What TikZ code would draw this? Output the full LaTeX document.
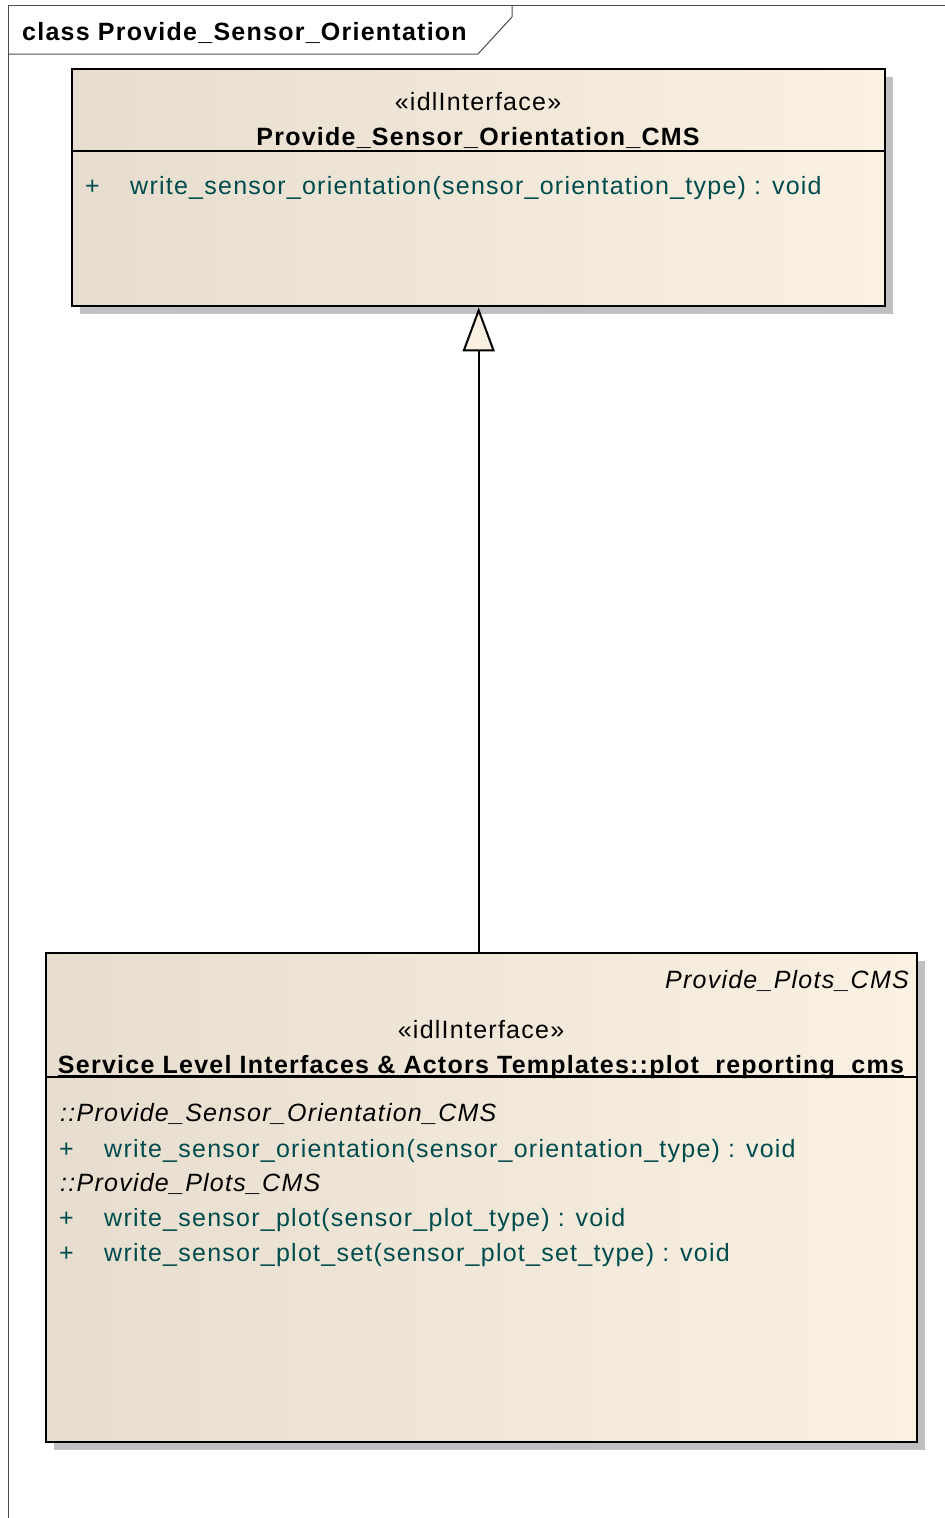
\documentclass[tikz,border=0pt]{standalone}
\usepackage{fontspec}
\setmainfont[LetterSpace=5]{Liberation Sans}
\usetikzlibrary{arrows.meta,shadows}
\definecolor{fillL}{RGB}{230,221,206}
\definecolor{fillR}{RGB}{251,241,227}
\definecolor{cream}{RGB}{250,240,226}
\definecolor{shade}{RGB}{192,192,192}
\definecolor{teal}{RGB}{0,76,76}
\tikzset{
  umlbox/.style={draw=black, line width=2.4pt, rectangle, anchor=north west, inner sep=0pt,
    left color=fillL, right color=fillR,
    drop shadow={shadow xshift=8pt, shadow yshift=-8pt, fill=shade, opacity=1}},
  txt/.style={inner sep=0pt, anchor=base west, font=\fontsize{25}{30}\selectfont},
  optxt/.style={txt, text=teal},
  ctxt/.style={inner sep=0pt, anchor=base, font=\fontsize{25}{30}\selectfont},
  gen/.style={line width=2pt, -{Triangle[length=44pt,width=32pt,fill=cream,line width=2pt]}},
  frameline/.style={line width=1pt, draw=black!70}
}
\begin{document}
\begin{tikzpicture}[x=1pt,y=-1pt]
\useasboundingbox (0,0) rectangle (945,1518);
% frame
\draw[frameline] (8,1518) -- (8,5) -- (945,5);
\draw[frameline] (8,54) -- (478,54) -- (512,17) -- (512,5);
\node[txt, font=\fontsize{25}{30}\selectfont\bfseries] (title) at (22,40) {class Provide\_Sensor\_Orientation};
% top class
\node[umlbox, minimum width=813pt, minimum height=237pt] (top) at (71,68) {};
\draw[line width=2pt] (top.west |- 0,151) -- (top.east |- 0,151);
\node[ctxt] (tster) at (478,110) {«idlInterface»};
\node[ctxt, font=\fontsize{25}{30}\selectfont\bfseries] (tname) at (478,145) {Provide\_Sensor\_Orientation\_CMS};
\node[optxt] (tplus) at (85,194) {+};
\node[optxt] (top1) at (130,194) {write\_sensor\_orientation(sensor\_orientation\_type) : void};
% bottom class
\node[umlbox, minimum width=871pt, minimum height=489pt] (bot) at (45,952) {};
\draw[line width=2pt] (bot.west |- 0,1077) -- (bot.east |- 0,1077);
\node[txt, anchor=base east, font=\fontsize{25}{30}\selectfont\itshape] (bsup) at (909,988) {Provide\_Plots\_CMS};
\node[ctxt] (bster) at (481,1038) {«idlInterface»};
\node[ctxt, font=\fontsize{25}{30}\selectfont\bfseries] (bname) at (481,1073) {Service Level Interfaces \& Actors Templates::plot\_reporting\_cms};
\draw[line width=1.5pt] ([yshift=-3pt]bname.base west) -- ([yshift=-3pt]bname.base east);
\node[txt, font=\fontsize{25}{30}\selectfont\itshape] (bg1) at (60,1121) {::Provide\_Sensor\_Orientation\_CMS};
\node[optxt] (bp1) at (59,1157) {+};
\node[optxt] (bo1) at (104,1157) {write\_sensor\_orientation(sensor\_orientation\_type) : void};
\node[txt, font=\fontsize{25}{30}\selectfont\itshape] (bg2) at (60,1191) {::Provide\_Plots\_CMS};
\node[optxt] (bp2) at (59,1226) {+};
\node[optxt] (bo2) at (104,1226) {write\_sensor\_plot(sensor\_plot\_type) : void};
\node[optxt] (bp3) at (59,1261) {+};
\node[optxt] (bo3) at (104,1261) {write\_sensor\_plot\_set(sensor\_plot\_set\_type) : void};
% generalization
\draw[gen] (top.south |- bot.north) -- (top.south);
\end{tikzpicture}
\end{document}
